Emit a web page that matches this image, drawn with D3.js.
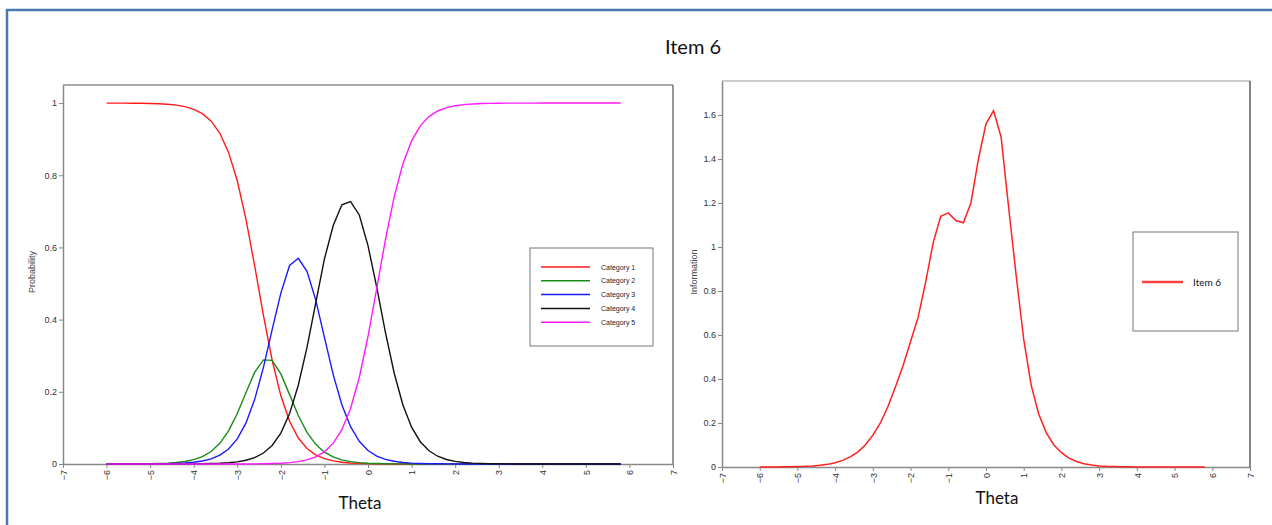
<!DOCTYPE html>
<html>
<head>
<meta charset="utf-8">
<script src="https://cdn.jsdelivr.net/npm/d3@7"></script>
<style>
  html, body { margin: 0; padding: 0; background: #fff; }
  svg { display: block; }
  .tick text { font-family: "Liberation Sans Narrow", "Liberation Sans", Arial, sans-serif; font-size: 9px; fill: #333; }
</style>
</head>
<body>
<svg id="chart" width="1272" height="525"></svg>
<script>
// ---------- DATA ----------
const theta = [-6,-5.8,-5.6,-5.4,-5.2,-5,-4.8,-4.6,-4.4,-4.2,-4,-3.8,-3.6,-3.4,-3.2,-3,-2.8,-2.6,-2.4,-2.2,
  -2,-1.8,-1.6,-1.4,-1.2,-1,-0.8,-0.6,-0.4,-0.2,0,0.2,0.4,0.6,0.8,1,1.2,1.4,1.6,1.8,
  2,2.2,2.4,2.6,2.8,3,3.2,3.4,3.6,3.8,4,4.2,4.4,4.6,4.8,5,5.2,5.4,5.6,5.8];

const categories = ["Category 1","Category 2","Category 3","Category 4","Category 5"];

const cat1 = [0.9999,0.9999,0.9998,0.9996,0.9994,0.9989,0.9981,0.9966,0.9942,0.9900,
  0.9827,0.9705,0.9499,0.9162,0.8633,0.7846,0.6776,0.5480,0.4116,0.2875,
  0.1888,0.1184,0.0719,0.0428,0.0252,0.0147,0.0085,0.0049,0.0029,0.0017,
  0.0010,0.0005,0.0003,0.0002,0.0001,0.0001,0,0,0,0,
  0,0,0,0,0,0,0,0,0,0, 0,0,0,0,0,0,0,0,0,0];
const cat2 = [0.0001,0.0001,0.0002,0.0003,0.0005,0.0008,0.0014,0.0024,0.0041,0.0070,
  0.0121,0.0205,0.0346,0.0573,0.0916,0.1397,0.1981,0.2546,0.2885,0.2870,
  0.2496,0.1922,0.1344,0.0875,0.0544,0.0328,0.0195,0.0114,0.0067,0.0039,
  0.0022,0.0013,0.0007,0.0004,0.0003,0.0001,0,0,0,0,
  0,0,0,0,0,0,0,0,0,0, 0,0,0,0,0,0,0,0,0,0];
const cat3 = [0,0,0.0001,0.0001,0.0002,0.0003,0.0005,0.0009,0.0016,0.0028,
  0.0048,0.0083,0.0143,0.0245,0.0416,0.0696,0.1137,0.1792,0.2678,0.3721,
  0.4735,0.5500,0.5700,0.5340,0.4547,0.3508,0.2484,0.1643,0.1033,0.0628,
  0.0374,0.0220,0.0128,0.0075,0.0043,0.0025,0.0014,0.0008,0.0005,0.0003,
  0.0002,0.0001,0.0001,0,0,0,0,0,0,0, 0,0,0,0,0,0,0,0,0,0];
const cat4 = [0,0,0,0,0,0,0,0.0001,0.0001,0.0002,
  0.0004,0.0007,0.0012,0.0020,0.0035,0.0060,0.0103,0.0178,0.0304,0.0515,
  0.0858,0.1396,0.2183,0.3231,0.4460,0.5680,0.6600,0.7180,0.7270,0.6900,
  0.6050,0.4899,0.3648,0.2521,0.1640,0.1021,0.0617,0.0366,0.0215,0.0125,
  0.0073,0.0042,0.0024,0.0014,0.0008,0.0005,0.0003,0.0002,0.0001,0.0001,
  0,0,0,0,0,0,0,0,0,0];
const cat5 = [0,0,0,0,0,0,0,0,0,0,
  0,0,0,0,0,0.0001,0.0002,0.0004,0.0007,0.0013,
  0.0022,0.0039,0.0067,0.0115,0.0197,0.0337,0.0571,0.0949,0.1538,0.2396,
  0.3532,0.4863,0.6213,0.7398,0.8313,0.8952,0.9367,0.9625,0.9780,0.9872,
  0.9926,0.9957,0.9975,0.9986,0.9992,0.9995,0.9997,0.9998,0.9999,0.9999,
  1,1,1,1,1,1,1,1,1,1];

const information = [0,0,0,0.001,0.001,0.002,0.003,0.005,0.008,0.012,
  0.019,0.030,0.046,0.068,0.100,0.145,0.200,0.275,0.365,0.460,
  0.570,0.680,0.840,1.020,1.140,1.155,1.120,1.110,1.200,1.400,
  1.560,1.620,1.500,1.180,0.870,0.580,0.370,0.240,0.155,0.100,
  0.065,0.040,0.025,0.015,0.009,0.005,0.003,0.002,0.001,0.001,
  0,0,0,0,0,0,0,0,0,0];

const xTicks = [-7,-6,-5,-4,-3,-2,-1,0,1,2,3,4,5,6,7];
const probTicks = [0,0.2,0.4,0.6,0.8,1];
const infoTicks = [0,0.2,0.4,0.6,0.8,1,1.2,1.4,1.6];

const seriesColors = ["#ff1a1a","#1a8a1a","#1a1aff","#111111","#ff1aff"];

// ---------- DRAW ----------
const svg = d3.select("#chart");
const FONT = "Lato, 'Open Sans', 'Liberation Sans', sans-serif";
const NARROW = "'Liberation Sans Narrow', 'Liberation Sans', Arial, sans-serif";

// outer blue frame
svg.append("rect").attr("x", 7).attr("y", 10).attr("width", 1290).attr("height", 540)
  .attr("fill", "none").attr("stroke", "#4a78b0").attr("stroke-width", 2.5);

svg.append("text").attr("x", 693).attr("y", 54).attr("text-anchor", "middle")
  .attr("font-family", FONT).attr("font-size", 20).attr("fill", "#111").text("Item 6");

function xAxisStyle(g) {
  g.select(".domain").attr("stroke", "#888").attr("stroke-width", 1.5);
  g.selectAll(".tick line").attr("stroke", "#888");
  g.selectAll(".tick text")
    .attr("transform", "rotate(-90)")
    .attr("x", -6).attr("y", 0).attr("dy", "0.35em")
    .style("text-anchor", "end");
}
function yAxisStyle(g) {
  g.select(".domain").attr("stroke", "#888").attr("stroke-width", 1.5);
  g.selectAll(".tick line").attr("stroke", "#888");
}

// ----- Left panel -----
const L = { x0: 63, x1: 673, y0: 85, y1: 464 };
const xL = d3.scaleLinear().domain([-7, 7]).range([L.x0, L.x1]);
const yL = d3.scaleLinear().domain([0, 1.05]).range([L.y1, L.y0]);

svg.append("line").attr("x1", L.x0).attr("x2", L.x1).attr("y1", L.y0).attr("y2", L.y0)
  .attr("stroke", "#555").attr("stroke-width", 1.2);
svg.append("line").attr("x1", L.x1).attr("x2", L.x1).attr("y1", L.y0).attr("y2", L.y1)
  .attr("stroke", "#555").attr("stroke-width", 1.2);

svg.append("g").attr("transform", `translate(0,${L.y1})`)
  .call(d3.axisBottom(xL).tickValues(xTicks).tickFormat(d3.format("d")).tickSize(4).tickSizeOuter(0))
  .call(xAxisStyle);
svg.append("g").attr("transform", `translate(${L.x0},0)`)
  .call(d3.axisLeft(yL).tickValues(probTicks).tickFormat(d => d3.format("~g")(d)).tickSize(4).tickPadding(2).tickSizeOuter(0))
  .call(yAxisStyle);

const seriesL = [cat1, cat2, cat3, cat4, cat5];
const lineL = d3.line().x((d, i) => xL(theta[i])).y(d => yL(d));
seriesL.forEach((s, k) => {
  svg.append("path").datum(s).attr("d", lineL).attr("fill", "none")
    .attr("stroke", seriesColors[k]).attr("stroke-width", 1.4);
});

svg.append("text").attr("transform", "translate(35,272) rotate(-90)").attr("text-anchor", "middle")
  .attr("font-family", NARROW).attr("font-size", 9).attr("fill", "#444").text("Probability");
svg.append("text").attr("x", 360).attr("y", 509).attr("text-anchor", "middle")
  .attr("font-family", FONT).attr("font-size", 17).attr("fill", "#111").text("Theta");

// left legend
const lg = svg.append("g");
lg.append("rect").attr("x", 530).attr("y", 248).attr("width", 123).attr("height", 98)
  .attr("fill", "#fff").attr("stroke", "#777").attr("stroke-width", 1);
categories.forEach((c, k) => {
  const yy = 267 + k * 13.8;
  lg.append("line").attr("x1", 541).attr("x2", 590).attr("y1", yy).attr("y2", yy)
    .attr("stroke", seriesColors[k]).attr("stroke-width", 1.5);
  lg.append("text").attr("x", 601).attr("y", yy + 2.5).attr("font-family", NARROW)
    .attr("font-size", 7).attr("fill", "#222").text(c);
});

// ----- Right panel -----
const R = { x0: 722, x1: 1250, y0: 81, y1: 467 };
const xR = d3.scaleLinear().domain([-7, 7]).range([R.x0, R.x1]);
const yR = d3.scaleLinear().domain([0, 1.7545]).range([R.y1, R.y0]);

svg.append("line").attr("x1", R.x0).attr("x2", R.x1).attr("y1", R.y0).attr("y2", R.y0)
  .attr("stroke", "#bbb").attr("stroke-width", 1.5);
svg.append("line").attr("x1", R.x1).attr("x2", R.x1).attr("y1", R.y0).attr("y2", R.y1)
  .attr("stroke", "#333").attr("stroke-width", 1.2);

svg.append("g").attr("transform", `translate(0,${R.y1})`)
  .call(d3.axisBottom(xR).tickValues(xTicks).tickFormat(d3.format("d")).tickSize(4).tickSizeOuter(0))
  .call(xAxisStyle);
svg.append("g").attr("transform", `translate(${R.x0},0)`)
  .call(d3.axisLeft(yR).tickValues(infoTicks).tickFormat(d => d3.format("~g")(d)).tickSize(4).tickPadding(2).tickSizeOuter(0))
  .call(yAxisStyle);

const lineR = d3.line().x((d, i) => xR(theta[i])).y(d => yR(d));
svg.append("path").datum(information).attr("d", lineR).attr("fill", "none")
  .attr("stroke", "#ff2020").attr("stroke-width", 1.5);

svg.append("text").attr("transform", "translate(697,272) rotate(-90)").attr("text-anchor", "middle")
  .attr("font-family", NARROW).attr("font-size", 9).attr("fill", "#444").text("Information");
svg.append("text").attr("x", 997).attr("y", 504).attr("text-anchor", "middle")
  .attr("font-family", FONT).attr("font-size", 17).attr("fill", "#111").text("Theta");

// right legend
const rg = svg.append("g");
rg.append("rect").attr("x", 1133).attr("y", 232).attr("width", 105).attr("height", 99)
  .attr("fill", "#fff").attr("stroke", "#777").attr("stroke-width", 1);
rg.append("line").attr("x1", 1142).attr("x2", 1183).attr("y1", 282).attr("y2", 282)
  .attr("stroke", "#ff4040").attr("stroke-width", 2.5);
rg.append("text").attr("x", 1193).attr("y", 286).attr("font-family", FONT)
  .attr("font-size", 10).attr("fill", "#111").text("Item 6");
</script>
</body>
</html>
